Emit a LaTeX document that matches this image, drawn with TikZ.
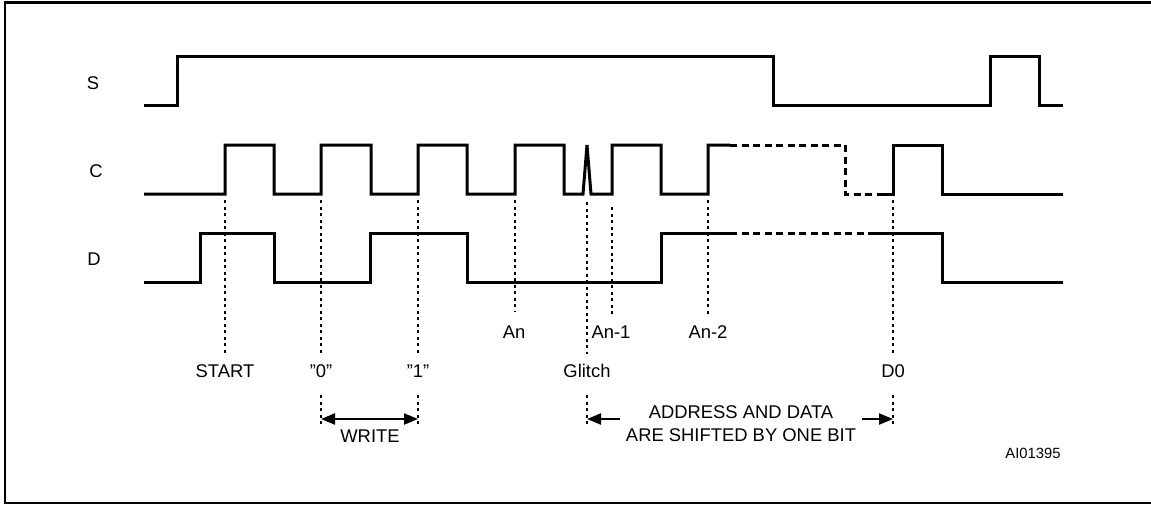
\documentclass[tikz,border=0pt]{standalone}
\usepackage{fontspec}
\setmainfont{Liberation Sans}
\usetikzlibrary{arrows.meta}
\tikzset{
  sig/.style={line width=3pt, line cap=butt, line join=miter},
  sigdash/.style={sig, dash pattern=on 7pt off 4.5pt},
  guide/.style={line width=2.4pt, dash pattern=on 3pt off 3.5pt},
  lbl/.style={inner sep=0pt, text height=13.2pt, text depth=0pt, anchor=center, font=\fontsize{18.4}{22}\selectfont},
  small/.style={inner sep=0pt, text height=10.6pt, text depth=0pt, anchor=center, font=\fontsize{14.8}{18}\selectfont},
  dim/.style={line width=2.2pt, -{Triangle[length=14pt,width=11pt]}},
  dimboth/.style={line width=2.2pt, {Triangle[length=14pt,width=11pt]}-{Triangle[length=14pt,width=11pt]}}
}
\begin{document}
\begin{tikzpicture}[x=1pt,y=-1pt]
\useasboundingbox (0,0) rectangle (1151,506);
\begin{scope}
\clip (0,0) rectangle (1151,506);
\draw[line width=2.4pt] (5,2.5) rectangle (1160,503);
\end{scope}
% signal names
\node[lbl] (nS) at (93,83) {S};
\node[lbl] (nC) at (96,171) {C};
\node[lbl] (nD) at (94,259) {D};
% S
\draw[sig] (144,105) -- (177,105) -- (177,56) -- (773,56) -- (773,105) -- (990,105) -- (990,56) -- (1039,56) -- (1039,105) -- (1063,105);
% C
\draw[sig] (144,194) -- (225,194) -- (225,145) -- (274,145) -- (274,194) -- (321,194) -- (321,145) -- (371,145) -- (371,194) -- (418,194) -- (418,145) -- (467,145) -- (467,194) -- (515,194) -- (515,145) -- (564,145) -- (564,194) -- (583,194) -- (587,145) -- (591,194) -- (612,194) -- (612,145) -- (661,145) -- (661,194) -- (708,194) -- (708,145) -- (730,145);
\draw[sigdash] (730,145) -- (845,145) -- (845,194) -- (878,194);
\draw[sig] (878,194) -- (893,194) -- (893,145) -- (942,145) -- (942,194) -- (1063,194);
% D
\draw[sig] (144,282) -- (200,282) -- (200,233) -- (274,233) -- (274,282) -- (370,282) -- (370,233) -- (467,233) -- (467,282) -- (661,282) -- (661,233) -- (730,233);
\draw[sigdash] (730,233) -- (872,233);
\draw[sig] (872,233) -- (942,233) -- (942,282) -- (1063,282);
% guide lines
\draw[guide] (225,200) -- (225,354);
\draw[guide] (321,200) -- (321,354);
\draw[guide] (321,395) -- (321,427);
\draw[guide] (418,200) -- (418,354);
\draw[guide] (418,395) -- (418,427);
\draw[guide] (515,200) -- (515,311);
\draw[guide] (587,202) -- (587,354);
\draw[guide] (587,395) -- (587,427);
\draw[guide] (612,207) -- (612,315);
\draw[guide] (708,200) -- (708,314);
\draw[guide] (893,200) -- (893,354);
\draw[guide] (893,395) -- (893,427);
% labels
\node[lbl] (lstart) at (225,371) {START};
\node[lbl] (l0) at (321,371) {”0”};
\node[lbl] (l1) at (418,371) {”1”};
\node[lbl] (lan) at (514,332) {An};
\node[lbl] (lan1) at (611,332) {An-1};
\node[lbl] (lan2) at (708,332) {An-2};
\node[lbl] (lgl) at (587,371) {Glitch};
\node[lbl] (ld0) at (893,371) {D0};
\node[lbl] (lwrite) at (370,436) {WRITE};
\node[lbl] (laddr1) at (741,412) {ADDRESS AND DATA};
\node[lbl] (laddr2) at (741,435) {ARE SHIFTED BY ONE BIT};
\node[small] (lid) at (1033,453) {AI01395};
% dimension arrows
\coordinate (w0) at (321,419);
\coordinate (w1) at (418,419);
\draw[dimboth] (w0) -- (w1);
\coordinate (a0) at (620,419);
\coordinate (a0t) at (587,419);
\coordinate (a1) at (862,419);
\coordinate (a1t) at (893,419);
\draw[dim] (a0) -- (a0t);
\draw[dim] (a1) -- (a1t);
\end{tikzpicture}
\end{document}
